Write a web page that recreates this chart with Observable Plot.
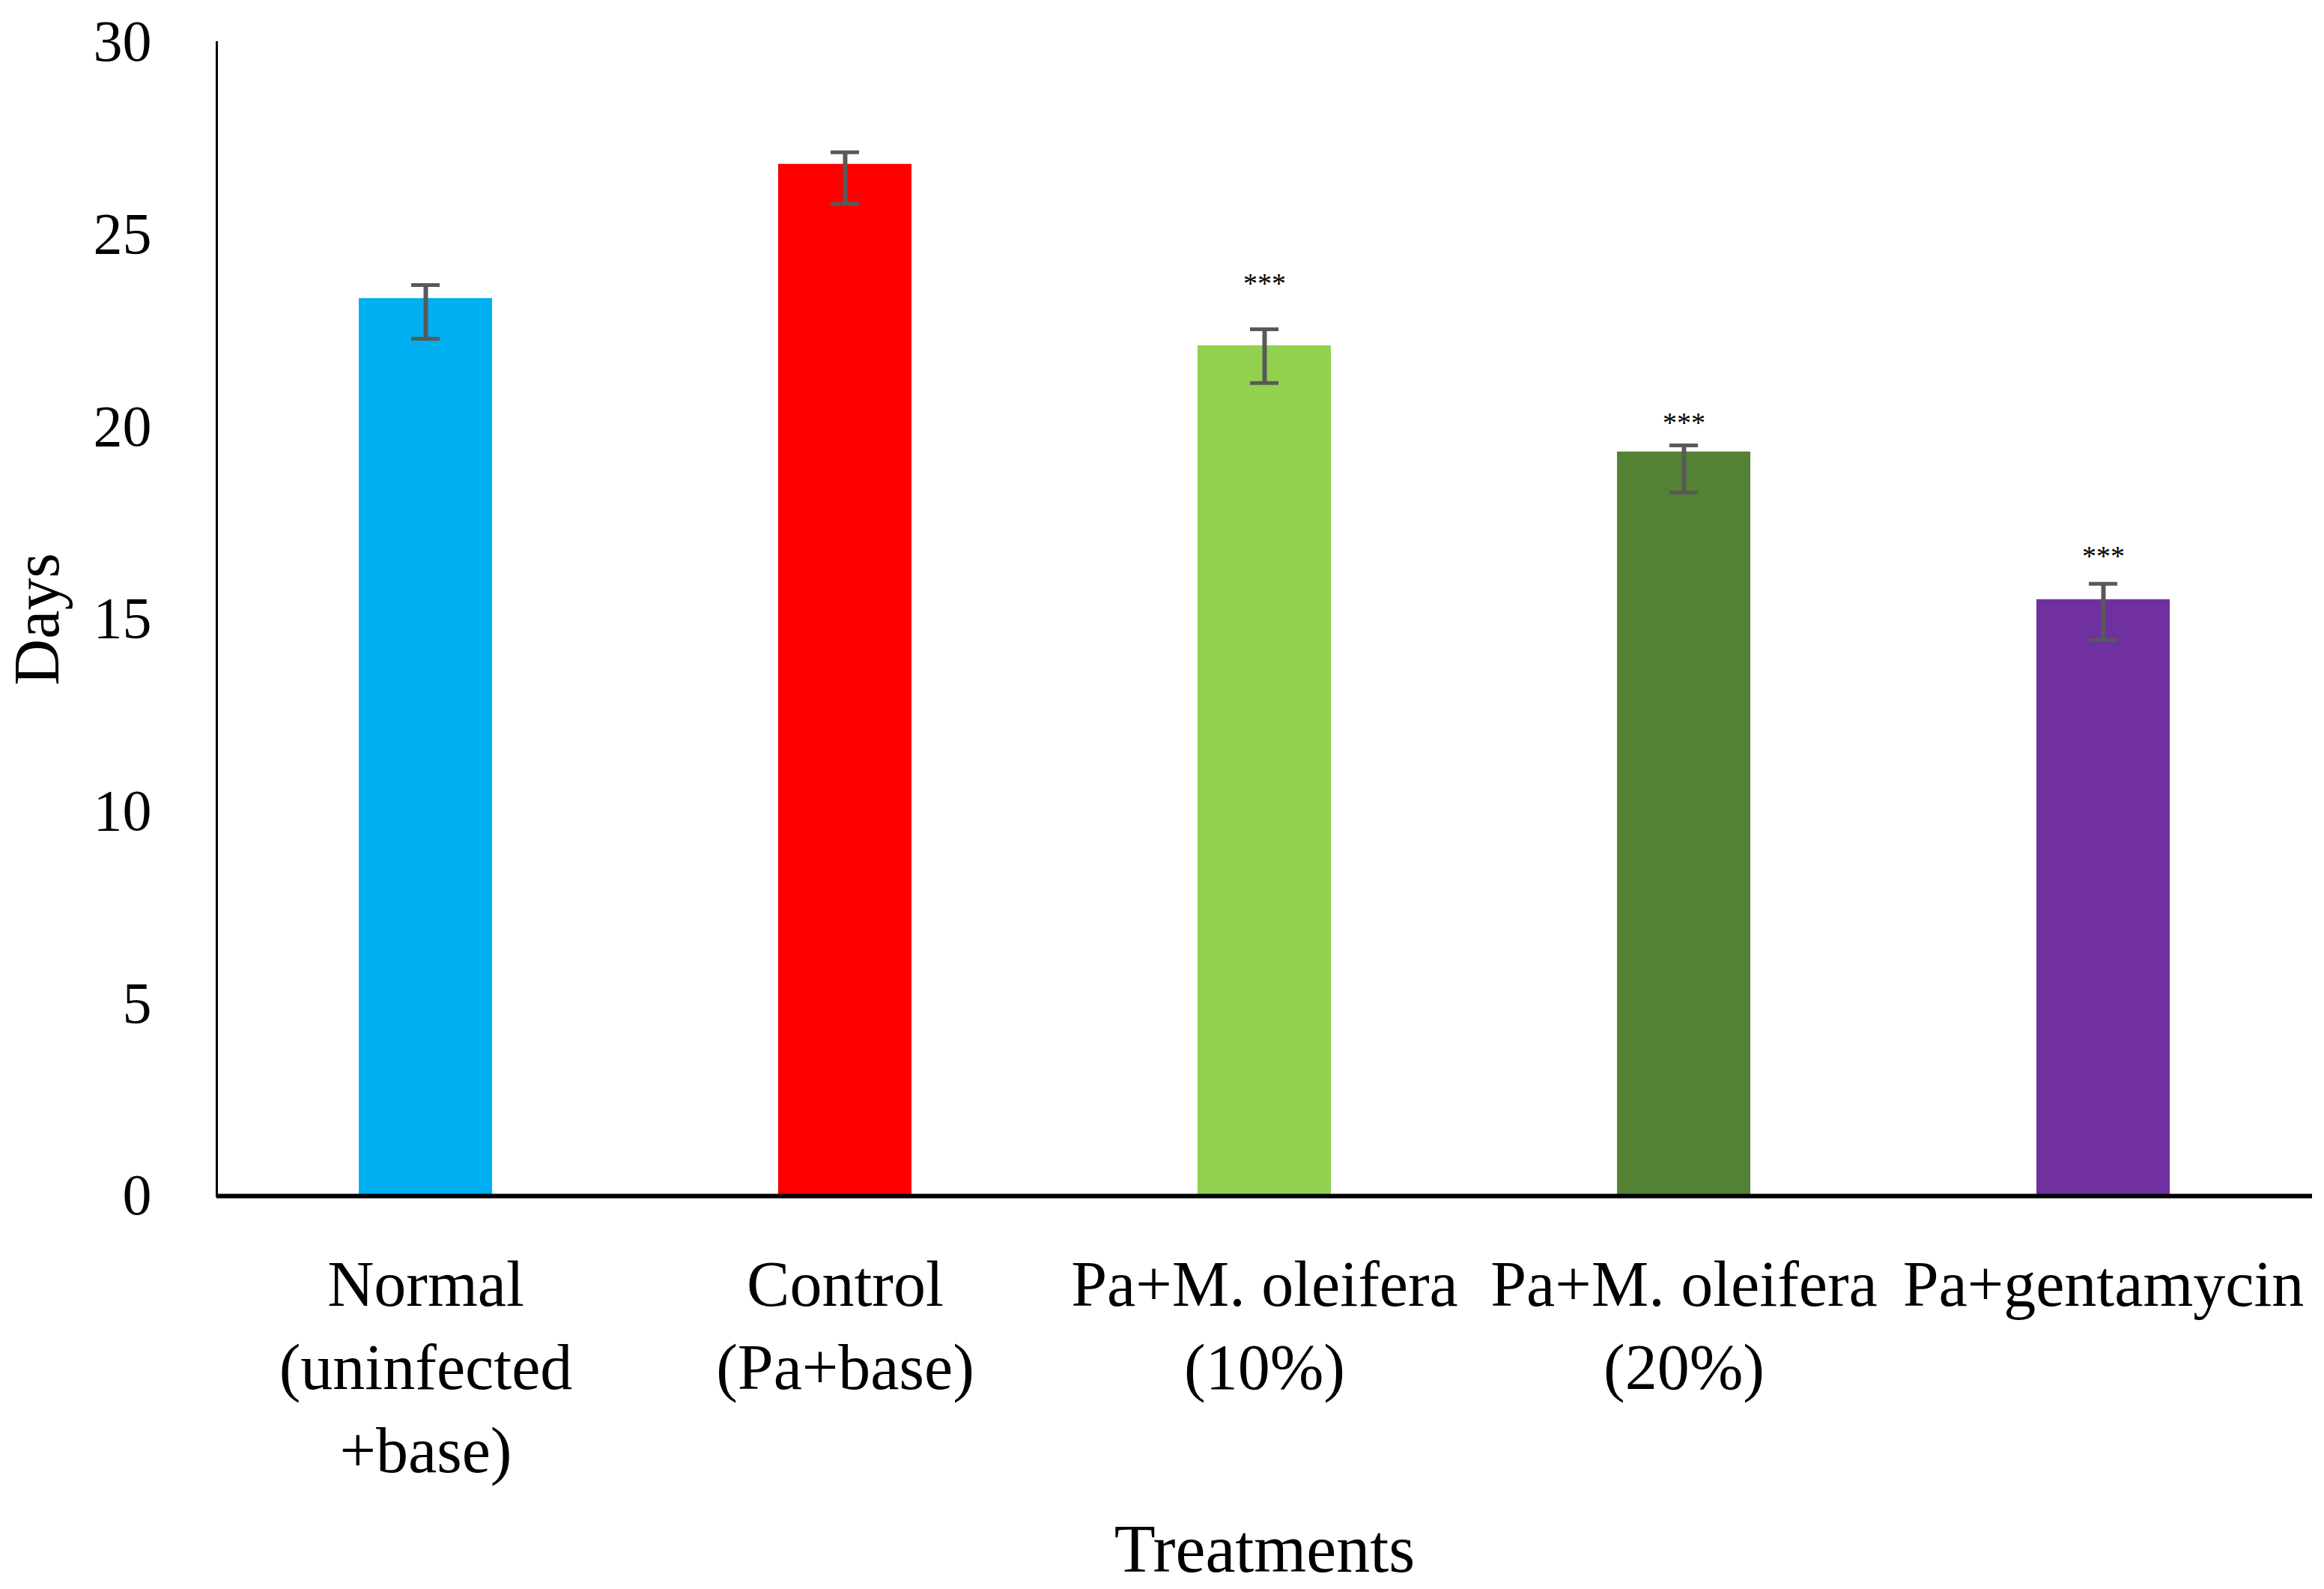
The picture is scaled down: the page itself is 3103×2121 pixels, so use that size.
<!DOCTYPE html>
<html>
<head>
<meta charset="utf-8">
<script src="https://cdn.jsdelivr.net/npm/d3@7"></script>
<script src="https://cdn.jsdelivr.net/npm/@observablehq/plot@0.6"></script>
<style>
  html, body { margin: 0; padding: 0; background: #fff; }
  #chart svg { display: block; }
</style>
</head>
<body>
<div id="chart"></div>
<script>
const categories = ["Normal\n(uninfected\n+base)", "Control\n(Pa+base)", "Pa+M. oleifera\n(10%)", "Pa+M. oleifera\n(20%)", "Pa+gentamycin"];
const values  = [23.34, 26.83, 22.11, 19.35, 15.51];
const errHigh = [23.69, 27.14, 22.54, 19.52, 15.92];
const errLow  = [22.29, 25.80, 21.14, 18.29, 14.46];
const barColors = ["#00B0F0", "#FF0000", "#92D050", "#548235", "#7030A0"];
const stars = ["", "", "***", "***", "***"];
const starY = [null, null, 23.83, 20.22, 16.75];
const yTicks = [0, 5, 10, 15, 20, 25, 30];

const data = categories.map((c, i) => ({
  cat: c, value: values[i], hi: errHigh[i], lo: errLow[i], star: stars[i], sy: starY[i]
}));
const starData = data.filter(d => d.star);

const chart = Plot.plot({
  width: 3103,
  height: 2121,
  marginLeft: 289,
  marginRight: 16,
  marginTop: 56,
  marginBottom: 525,
  style: { fontFamily: "'Liberation Serif', 'DejaVu Serif', serif", background: "#fff", color: "#000" },
  x: { domain: categories, paddingInner: 0.682, paddingOuter: 0.336, label: null },
  y: { domain: [0, 30], label: null },
  color: { domain: categories, range: barColors },
  marks: [
    Plot.barY(data, { x: "cat", y: "value", fill: "cat" }),
    Plot.ruleX(data, { x: "cat", y1: "lo", y2: "hi", stroke: "#595959", strokeWidth: 6 }),
    Plot.tickY(data, { x: "cat", y: "hi", stroke: "#595959", strokeWidth: 5, insetLeft: 70, insetRight: 70 }),
    Plot.tickY(data, { x: "cat", y: "lo", stroke: "#595959", strokeWidth: 5, insetLeft: 70, insetRight: 70 }),
    Plot.text(starData, { x: "cat", y: "sy", text: "star", fontSize: 38, lineAnchor: "middle", dy: 6, fill: "#000" }),
    Plot.ruleY([0], { stroke: "#000", strokeWidth: 6 }),
    Plot.frame({ anchor: "left", stroke: "#000", strokeWidth: 3 }),
    Plot.axisY({ ticks: yTicks, tickSize: 0, tickPadding: 87, fontSize: 78, label: null }),
    Plot.axisX({ tickSize: 0, tickPadding: 68, fontSize: 86, lineHeight: 1.29, label: null }),
    Plot.text(["Days"], { frameAnchor: "left", dx: -239, rotate: -90, textAnchor: "middle", lineAnchor: "middle", fontSize: 86, fill: "#000" }),
    Plot.text(["Treatments"], { frameAnchor: "bottom", dy: 473, textAnchor: "middle", lineAnchor: "middle", fontSize: 90, fill: "#000" })
  ]
});
document.getElementById("chart").appendChild(chart);
</script>
</body>
</html>
